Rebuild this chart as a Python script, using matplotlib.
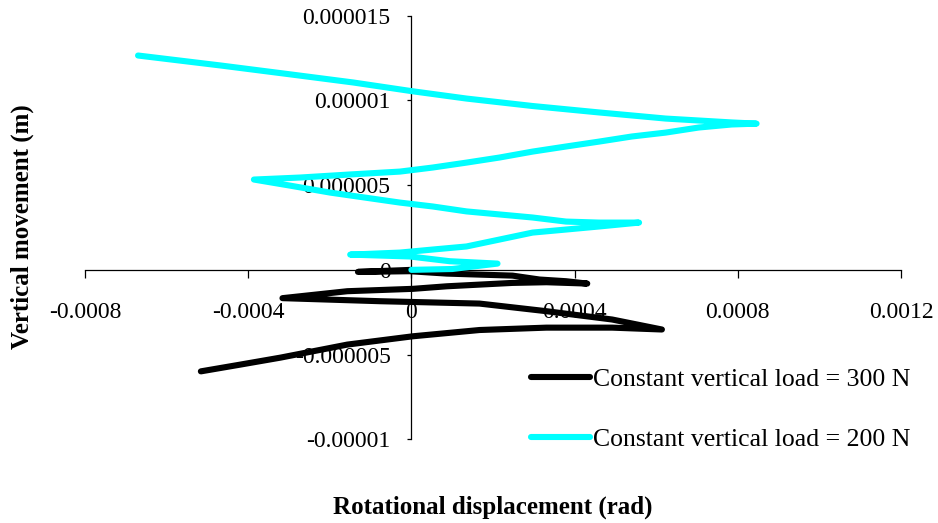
import matplotlib
matplotlib.use("Agg")
import matplotlib.pyplot as plt
from matplotlib.ticker import FixedLocator, FixedFormatter

plt.rcParams['font.family'] = ['Liberation Serif', 'DejaVu Serif']

# Rotational displacement (rad) and vertical movement (m), constant load 200 N
rot_200 = [0.0, 0.00010, 0.000211,
           0.000094, -0.000004, -0.00015,
           -0.000028, 0.0000525, 0.000135, 0.000216, 0.000297, 0.000379, 0.00046, 0.000558,
           0.00046, 0.000379, 0.000297, 0.000216, 0.000135, 0.0000525, -0.000028, -0.000199,
           -0.000297, -0.000386,
           -0.000272, -0.00015, -0.000028, 0.0000525, 0.000135, 0.000216, 0.000297, 0.000379,
           0.00046, 0.00054, 0.000623, 0.000704, 0.000785, 0.000846,
           0.000785, 0.000623, 0.00046, 0.000297, 0.000135, 0.0,
           -0.000143, -0.000304, -0.000467, -0.00067]
vert_200 = [0.0, 0.05e-6, 0.37e-6,
            0.51e-6, 0.79e-6, 0.90e-6,
            1.02e-6, 1.20e-6, 1.38e-6, 1.79e-6, 2.20e-6, 2.38e-6, 2.56e-6, 2.79e-6,
            2.79e-6, 2.85e-6, 3.09e-6, 3.27e-6, 3.45e-6, 3.74e-6, 3.97e-6, 4.56e-6,
            4.97e-6, 5.33e-6,
            5.45e-6, 5.63e-6, 5.80e-6, 6.04e-6, 6.33e-6, 6.63e-6, 6.98e-6, 7.28e-6,
            7.57e-6, 7.87e-6, 8.10e-6, 8.40e-6, 8.58e-6, 8.63e-6,
            8.70e-6, 8.93e-6, 9.29e-6, 9.67e-6, 10.11e-6, 10.55e-6,
            11.06e-6, 11.56e-6, 12.06e-6, 12.65e-6]

# Rotational displacement (rad) and vertical movement (m), constant load 300 N
rot_300 = [0.0, -0.000131,
           -0.0000037, 0.0000866, 0.000167, 0.000248, 0.000314, 0.000379, 0.000431,
           0.000331, 0.000248, 0.0000866, 0.0000037, -0.000157, -0.000316,
           -0.0000769, 0.000167, 0.000331, 0.000492, 0.000614,
           0.000492, 0.000331, 0.000167, 0.0000037, -0.000157, -0.000321, -0.000419, -0.000516]
vert_300 = [0.0, -0.12e-6,
            -0.08e-6, -0.22e-6, -0.28e-6, -0.34e-6, -0.57e-6, -0.67e-6, -0.81e-6,
            -0.73e-6, -0.77e-6, -0.97e-6, -1.12e-6, -1.26e-6, -1.67e-6,
            -1.85e-6, -1.99e-6, -2.44e-6, -2.93e-6, -3.52e-6,
            -3.41e-6, -3.41e-6, -3.55e-6, -3.92e-6, -4.41e-6, -5.18e-6, -5.59e-6, -5.99e-6]

x_ticks = [-0.0008, -0.0004, 0.0, 0.0004, 0.0008, 0.0012]
x_tick_labels = ['-0.0008', '-0.0004', '0', '0.0004', '0.0008', '0.0012']
y_ticks = [-0.00001, -0.000005, 0.0, 0.000005, 0.00001, 0.000015]
y_tick_labels = ['-0.00001', '-0.000005', '0', '0.000005', '0.00001', '0.000015']

labels = ['Constant vertical load = 300 N', 'Constant vertical load = 200 N']

fig = plt.figure(figsize=(9.38, 5.23), dpi=100)
ax = fig.add_axes([85 / 938, 1 - 439.3 / 523, 816 / 938, 423.6 / 523])

ax.plot(rot_300, vert_300, color='black', lw=4.4, solid_capstyle='round',
        solid_joinstyle='round', label=labels[0], zorder=2)
ax.plot(rot_200, vert_200, color='#00FFFF', lw=4.4, solid_capstyle='round',
        solid_joinstyle='round', label=labels[1], zorder=3)

ax.set_xlim(x_ticks[0], x_ticks[-1])
ax.set_ylim(y_ticks[0], y_ticks[-1])

for side in ('top', 'right'):
    ax.spines[side].set_visible(False)
ax.spines['left'].set_position(('data', 0))
ax.spines['bottom'].set_position(('data', 0))
for side in ('left', 'bottom'):
    ax.spines[side].set_linewidth(0.9)
    ax.spines[side].set_zorder(1)

ax.xaxis.set_major_locator(FixedLocator(x_ticks))
ax.xaxis.set_major_formatter(FixedFormatter(x_tick_labels))
ax.yaxis.set_major_locator(FixedLocator(y_ticks))
ax.yaxis.set_major_formatter(FixedFormatter(y_tick_labels))
ax.tick_params(axis='x', direction='out', length=5.8, width=0.9, pad=17, labelsize=17)
ax.tick_params(axis='y', direction='out', length=3.0, width=0.9, pad=12, labelsize=17)
for lbl in ax.get_xticklabels() + ax.get_yticklabels():
    lbl.set_zorder(1)

fig.text(493 / 938, 1 - 507 / 523, 'Rotational displacement (rad)', ha='center', va='center',
         fontsize=18, fontweight='bold')
fig.text(22 / 938, 1 - 227 / 523, 'Vertical movement (m)', ha='center', va='center',
         rotation=90, fontsize=18, fontweight='bold')

leg = fig.legend(loc='center left', bbox_to_anchor=(531 / 938, 1 - 409.5 / 523),
                 frameon=False, fontsize=18.5, handlelength=2.3, handletextpad=0.1,
                 labelspacing=1.42, borderpad=0, borderaxespad=0)

fig.savefig('out.png', dpi=100)
